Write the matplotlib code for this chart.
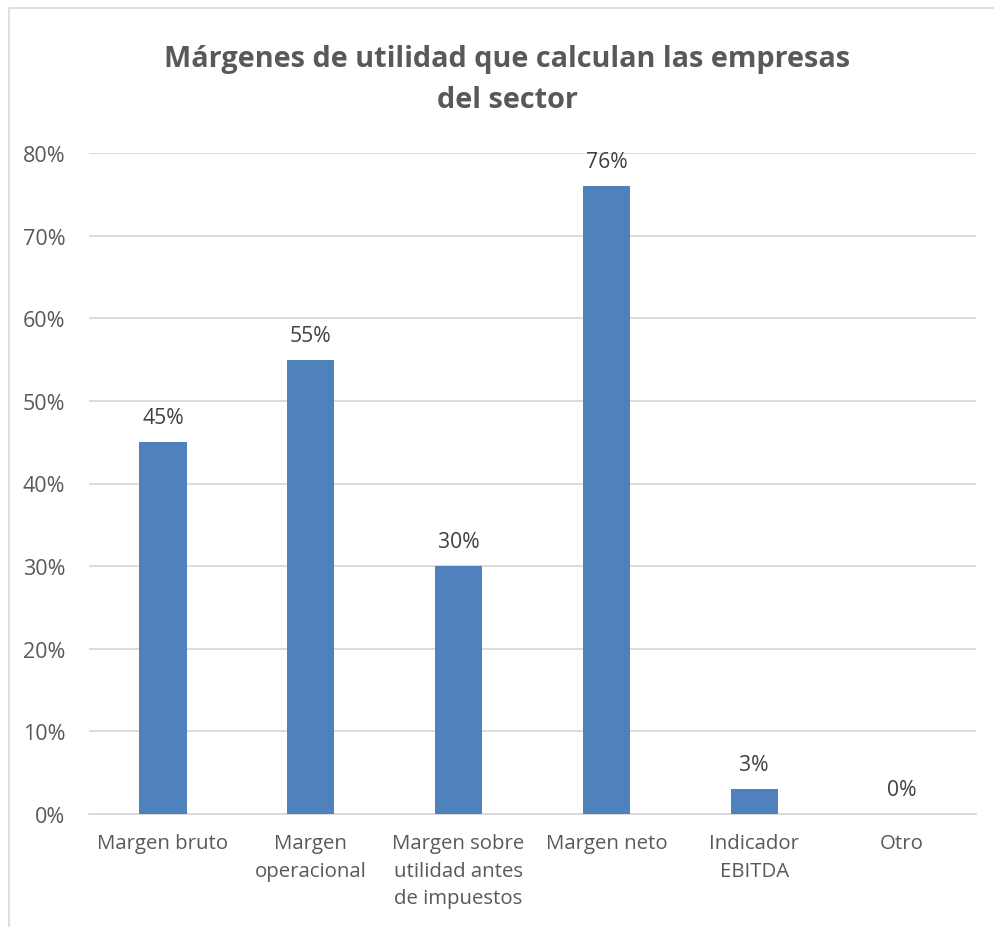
import matplotlib
matplotlib.use("Agg")
import matplotlib.pyplot as plt
from matplotlib.patches import Rectangle

categories = ["Margen bruto", "Margen\noperacional", "Margen sobre\nutilidad antes\nde impuestos",
              "Margen neto", "Indicador\nEBITDA", "Otro"]
values = [45, 55, 30, 76, 3, 0]
yticks = [0, 10, 20, 30, 40, 50, 60, 70, 80]

plt.rcParams['font.family'] = ['Open Sans', 'DejaVu Sans']

W, H = 994, 928
fig = plt.figure(figsize=(W/100, H/100), dpi=100)
fig.patch.set_facecolor('white')

fig.patches.append(Rectangle((8.5/W, -0.01), 1.0, (H-9)/H + 0.01, transform=fig.transFigure,
                             fill=False, edgecolor='#d9d9d9', linewidth=1.2))

ax = fig.add_axes([89/W, 1-815/H, 887/W, 661/H])
x = list(range(len(categories)))
bars = ax.bar(x, values, width=0.32, color='#4f81bd', zorder=3)
ax.set_xlim(-0.5, len(categories)-0.5)
ax.set_ylim(0, 80)
ax.set_yticks(yticks)
ax.set_yticklabels([f"{v}%" for v in yticks], fontsize=15.5, color='#595959')
ax.set_xticks(x)
ax.set_xticklabels(categories, fontsize=14.7, color='#595959', linespacing=1.5, va='top')
ax.tick_params(axis='both', length=0)
ax.tick_params(axis='x', pad=14)
ax.tick_params(axis='y', pad=17)
ax.grid(axis='y', color='#d9d9d9', linewidth=1.3, zorder=0)
for s in ['top', 'right', 'left']:
    ax.spines[s].set_visible(False)
ax.spines['bottom'].set_color('#d9d9d9')
ax.spines['bottom'].set_linewidth(1.3)

for xi, v in zip(x, values):
    ax.annotate(f"{v}%", (xi, v), xytext=(0, 10), textcoords='offset points',
                ha='center', va='bottom', fontsize=15.2, color='#404040')

fig.text(507/W, 1-80/H, "Márgenes de utilidad que calculan las empresas\ndel sector",
         ha='center', va='center', fontsize=20.8, fontweight='bold', color='#595959',
         linespacing=1.5)

fig.savefig("out.png", dpi=100)
